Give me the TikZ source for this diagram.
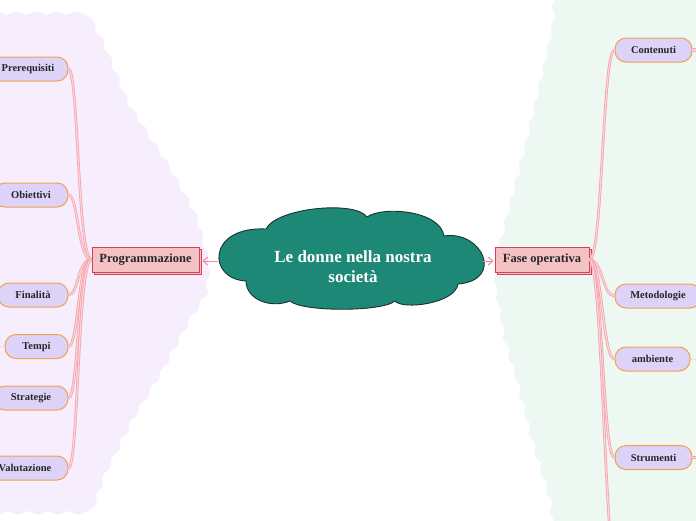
\documentclass[tikz,border=0pt]{standalone}
\usepackage{fontspec}
\setmainfont{Liberation Serif}
\usetikzlibrary{decorations.pathmorphing,arrows.meta,shadows}
\definecolor{bgleft}{HTML}{F6EEFC}
\definecolor{bgright}{HTML}{EEF8F2}
\definecolor{leaffill}{HTML}{DDD3F9}
\definecolor{leafdraw}{HTML}{F3A04C}
\definecolor{topicfill}{HTML}{F5C2C4}
\definecolor{topicdraw}{HTML}{D2405A}
\definecolor{connout}{HTML}{F4A3AE}
\definecolor{connin}{HTML}{FCD6DB}
\definecolor{arrowc}{HTML}{F28A9A}
\definecolor{cloudfill}{HTML}{1E8876}
\definecolor{clouddraw}{HTML}{16332E}
\begin{document}
\begin{tikzpicture}[x=1pt,y=-1pt,
  leaf/.style={rectangle, rounded corners=11pt, draw=leafdraw, fill=leaffill, line width=1pt,
    minimum height=24pt, inner sep=0pt, font=\bfseries\fontsize{10.5}{12}\selectfont, text=black!85},
  topic/.style={rectangle, draw=topicdraw, fill=topicfill, line width=1pt, minimum height=25pt,
    inner sep=0pt, font=\bfseries\fontsize{12.5}{14}\selectfont, text=black!85,
    copy shadow={shadow xshift=2pt, shadow yshift=-2pt}},
  conn/.style={draw=connout, double=connin, double distance=1.1pt, line width=0.8pt},
  thinconn/.style={draw=connin, line width=0.9pt},
  arr/.style={draw=arrowc, line width=1pt, -{Straight Barb[length=4.5pt,width=8pt]}},
  bgshape/.style={decorate, decoration={snake, amplitude=1.7pt, segment length=20pt}},
  cloudtext/.style={align=center, text=white, inner sep=0pt, font=\bfseries\fontsize{17}{20}\selectfont}
]
\useasboundingbox (0,0) rectangle (696,520);
% backgrounds
\fill[bgleft, bgshape] (-30,13) -- (85,13) -- (100,40) -- (125,100) -- (170,170) -- (192,210) -- (204,255)
  -- (201,290) -- (185,315) -- (155,370) -- (125,420) -- (100,470) -- (88,505) -- (84,511) -- (-30,511) -- cycle;
\fill[bgright, bgshape] (556,-30) -- (553,20) -- (535,100) -- (523,150) -- (510,200) -- (497,250)
  -- (497,285) -- (505,330) -- (525,400) -- (535,440) -- (553,500) -- (558,550) -- (730,550) -- (730,-30) -- cycle;

% central cloud
\coordinate (cA) at (266,229);
\coordinate (cB) at (367,217);
\coordinate (cC) at (444,236);
\coordinate (cD) at (458,284);
\coordinate (cE) at (395,301);
\coordinate (cF) at (290,301);
\coordinate (cG) at (246,281);
\filldraw[fill=cloudfill, draw=clouddraw, line width=0.9pt]
  (cA) .. controls (276,208) and (355,200) .. (cB)
  .. controls (382,206) and (440,210) .. (cC)
  .. controls (482,230) and (505,280) .. (cD)
  .. controls (455,304) and (402,310) .. (cE)
  .. controls (382,312) and (302,312) .. (cF)
  .. controls (270,309) and (246,299) .. (cG)
  .. controls (207,279) and (207,226) .. (cA) -- cycle;
\node[cloudtext] (root) at (353,267) {Le donne nella nostra\\società};
\coordinate (cloudL) at (218,261);
\coordinate (cloudR) at (483,261);

% topics
\node[topic, minimum width=107pt] (prog) at (145.5,259.5) {Programmazione};
\node[topic, minimum width=94pt] (fase) at (542,259.5) {Fase operativa};

% left leaves
\node[leaf, minimum width=80pt] (pre) at (28,69) {Prerequisiti};
\node[leaf, minimum width=74pt] (obi) at (31,195) {Obiettivi};
\node[leaf, minimum width=70pt] (fin) at (33,295) {Finalità};
\node[leaf, minimum width=63pt] (tem) at (36.5,346.5) {Tempi};
\node[leaf, minimum width=74pt] (str) at (31,398) {Strategie};
\node[leaf, minimum width=86pt] (val) at (25,468) {Valutazione};

% right leaves
\node[leaf, minimum width=77pt] (con) at (653.5,50) {Contenuti};
\node[leaf, minimum width=86pt] (met) at (658,296) {Metodologie};
\node[leaf, minimum width=75pt] (amb) at (652.5,359) {ambiente};
\node[leaf, minimum width=77pt] (stru) at (653.5,457.5) {Strumenti};

% off-picture ends
\coordinate (offbot) at (617,575);
\coordinate (conR) at (700,50);
\coordinate (ambR) at (700,359);
\coordinate (struR) at (700,457.5);
\coordinate (temL) at (-4,346.5);

% arrows from root
\draw[arr] (cloudL) -- ([xshift=3pt]prog.east |- cloudL);
\draw[arr] (cloudR) -- ([xshift=-1pt]fase.west |- cloudR);

% left connectors
\foreach \n in {pre,obi,fin,tem,str,val}
  \draw[conn] (\n.east) .. controls +(10,0) and +(-14,0) .. (prog.west);
% right connectors
\foreach \n in {con,met,amb,stru}
  \draw[conn] (fase.east) .. controls +(13,0) and +(-12,0) .. (\n.west);
\draw[conn] (fase.east) .. controls +(13,0) and +(-12,0) .. (offbot);

% stubs toward off-picture children
\draw[conn, line width=1.1pt] (con.east) -- (conR);
\draw[conn, line width=1.1pt] (stru.east) -- (struR);
\draw[thinconn] (amb.east) -- (ambR);
\draw[thinconn] (tem.west) -- (temL);
\end{tikzpicture}
\end{document}
